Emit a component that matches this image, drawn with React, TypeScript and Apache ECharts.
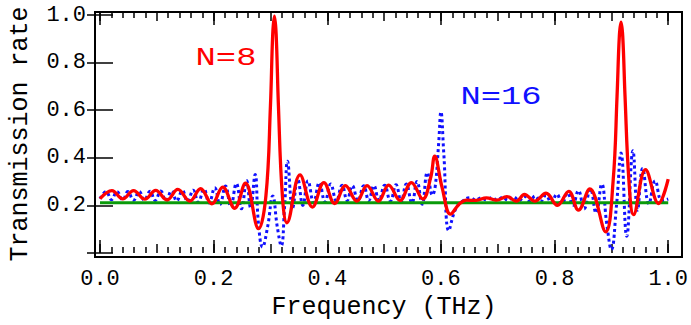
import React, { useEffect, useRef } from "react";
import * as echarts from "echarts";

const xAxisTitle = "Frequency (THz)";
const yAxisTitle = "Transmission rate";
const xTickLabels = ["0.0", "0.2", "0.4", "0.6", "0.8", "1.0"];
const yTickLabels = ["", "0.2", "0.4", "0.6", "0.8", "1.0"];
const labelN8 = "N=8";
const labelN16 = "N=16";

// N = 8 (solid red)
const n8Points: [number, number][] = [
  [0.000, 0.228], [0.021, 0.262], [0.040, 0.227], [0.059, 0.262], [0.079, 0.226],
  [0.098, 0.263], [0.118, 0.223], [0.137, 0.267], [0.158, 0.218], [0.177, 0.270],
  [0.197, 0.207], [0.216, 0.277], [0.237, 0.188], [0.256, 0.293], [0.279, 0.102],
  [0.292, 0.240], [0.300, 0.620], [0.304, 0.920], [0.307, 0.995], [0.310, 0.920],
  [0.314, 0.620], [0.321, 0.240], [0.329, 0.127], [0.352, 0.328], [0.374, 0.193],
  [0.394, 0.296], [0.413, 0.208], [0.432, 0.283], [0.452, 0.218], [0.470, 0.283],
  [0.490, 0.218], [0.508, 0.285], [0.528, 0.221], [0.548, 0.296], [0.568, 0.227],
  [0.582, 0.317], [0.589, 0.407], [0.602, 0.276], [0.617, 0.163], [0.632, 0.205],
  [0.645, 0.222], [0.662, 0.221], [0.680, 0.232], [0.698, 0.222], [0.716, 0.237],
  [0.733, 0.218], [0.747, 0.246], [0.765, 0.218], [0.785, 0.251], [0.805, 0.200],
  [0.825, 0.259], [0.842, 0.180], [0.862, 0.269], [0.890, 0.089], [0.903, 0.300],
  [0.910, 0.660], [0.914, 0.910], [0.917, 0.970], [0.920, 0.910], [0.924, 0.660],
  [0.931, 0.300], [0.939, 0.161], [0.960, 0.350], [0.983, 0.208], [1.000, 0.310],
];

// N = 16 (dotted blue)
const n16Points: [number, number][] = [
  [0.000, 0.228], [0.011, 0.258], [0.020, 0.224], [0.030, 0.258], [0.040, 0.223],
  [0.049, 0.258], [0.059, 0.222], [0.069, 0.259], [0.078, 0.222], [0.088, 0.259],
  [0.097, 0.221], [0.107, 0.260], [0.116, 0.220], [0.126, 0.261], [0.135, 0.219],
  [0.145, 0.262], [0.154, 0.217], [0.164, 0.264], [0.173, 0.214], [0.183, 0.268],
  [0.192, 0.210], [0.202, 0.274], [0.211, 0.204], [0.221, 0.282], [0.230, 0.196],
  [0.240, 0.292], [0.249, 0.186], [0.258, 0.305], [0.265, 0.190], [0.273, 0.330],
  [0.279, 0.120], [0.286, 0.025], [0.295, 0.110], [0.304, 0.240], [0.312, 0.110],
  [0.319, 0.030], [0.325, 0.200], [0.330, 0.386], [0.339, 0.190], [0.348, 0.310],
  [0.357, 0.200], [0.366, 0.303], [0.376, 0.212], [0.386, 0.296], [0.396, 0.215],
  [0.406, 0.290], [0.416, 0.218], [0.426, 0.285], [0.435, 0.220], [0.444, 0.283],
  [0.454, 0.220], [0.464, 0.283], [0.473, 0.220], [0.482, 0.283], [0.491, 0.220],
  [0.501, 0.285], [0.511, 0.218], [0.521, 0.287], [0.530, 0.215], [0.539, 0.290],
  [0.549, 0.210], [0.558, 0.300], [0.567, 0.205], [0.576, 0.338], [0.585, 0.243],
  [0.590, 0.280], [0.596, 0.460], [0.600, 0.593], [0.605, 0.420], [0.614, 0.094],
  [0.625, 0.180], [0.636, 0.214], [0.652, 0.232], [0.661, 0.222], [0.671, 0.232],
  [0.680, 0.222], [0.690, 0.233], [0.699, 0.222], [0.709, 0.234], [0.718, 0.221],
  [0.728, 0.236], [0.737, 0.220], [0.747, 0.238], [0.756, 0.218], [0.766, 0.240],
  [0.775, 0.215], [0.785, 0.243], [0.794, 0.212], [0.804, 0.247], [0.813, 0.207],
  [0.823, 0.252], [0.832, 0.200], [0.842, 0.262], [0.852, 0.185], [0.863, 0.270],
  [0.873, 0.168], [0.883, 0.290], [0.892, 0.120], [0.900, 0.014], [0.909, 0.200],
  [0.917, 0.420], [0.927, 0.070], [0.938, 0.430], [0.946, 0.180], [0.955, 0.355],
  [0.966, 0.207], [0.977, 0.303], [0.989, 0.220], [1.000, 0.227],
];

// Flat reference (green)
const baselinePoints: [number, number][] = [
  [0.0, 0.211],
  [1.0, 0.211],
];

const FONT = '"Liberation Mono", "DejaVu Sans Mono", monospace';
const INK = "#000";

export default function App() {
  const ref = useRef<HTMLDivElement>(null);

  useEffect(() => {
    if (!ref.current) return;
    const chart = echarts.init(ref.current, null, { renderer: "svg" });

    const tickLine = { color: INK, width: 1.5 };
    const xBase = {
      type: "value" as const,
      min: 0,
      max: 1,
      axisLine: { show: false },
      splitLine: { show: false },
    };
    const majorX = (pos: "top" | "bottom", offset: number, withLabels: boolean) => ({
      ...xBase,
      position: pos,
      offset,
      interval: 0.2,
      axisTick: { show: true, inside: true, length: 13, lineStyle: tickLine },
      axisLabel: withLabels
        ? {
            show: true,
            formatter: (v: number) => xTickLabels[Math.round(v / 0.2)] ?? "",
            fontFamily: FONT,
            fontSize: 22,
            color: INK,
            margin: 15,
          }
        : { show: false },
    });
    const minorX = (pos: "top" | "bottom", offset: number) => ({
      ...xBase,
      position: pos,
      offset,
      interval: 0.1,
      axisTick: { show: true, inside: true, length: 9, lineStyle: tickLine },
      minorTick: { show: true, splitNumber: 5, length: 6, lineStyle: tickLine },
      axisLabel: { show: false },
    });
    const yBase = (pos: "left" | "right", offset: number, withLabels: boolean) => ({
      type: "value" as const,
      min: 0,
      max: 1,
      interval: 0.2,
      position: pos,
      offset,
      axisLine: { show: false },
      splitLine: { show: false },
      axisTick: { show: true, inside: true, length: 13, lineStyle: tickLine },
      axisLabel: withLabels
        ? {
            show: true,
            formatter: (v: number) => yTickLabels[Math.round(v / 0.2)] ?? "",
            fontFamily: FONT,
            fontSize: 22,
            color: INK,
            margin: 10,
          }
        : { show: false },
    });

    const xMain: any = majorX("bottom", 0, true);
    xMain.name = xAxisTitle;
    xMain.nameLocation = "middle";
    xMain.nameGap = 42;
    xMain.nameTextStyle = { fontFamily: FONT, fontSize: 25, color: INK };

    const yMain: any = yBase("left", 4, true);
    yMain.name = yAxisTitle;
    yMain.nameLocation = "middle";
    yMain.nameGap = 63;
    yMain.nameTextStyle = { fontFamily: FONT, fontSize: 25, color: INK };

    chart.setOption({
      animation: false,
      backgroundColor: "#fff",
      grid: { left: 99, right: 14.5, top: 15, bottom: 68.7, containLabel: false },
      xAxis: [xMain, minorX("bottom", 0), majorX("top", 3, false), minorX("top", 3)],
      yAxis: [yMain, yBase("right", 6, false)],
      series: [
        {
          name: labelN16,
          type: "line",
          xAxisIndex: 0,
          yAxisIndex: 0,
          data: n16Points,
          showSymbol: false,
          smooth: 0.45,
          lineStyle: { color: "#1010ff", width: 3, type: [3, 3], cap: "butt" },
          z: 2,
        },
        {
          name: "reference",
          type: "line",
          xAxisIndex: 0,
          yAxisIndex: 0,
          data: baselinePoints,
          showSymbol: false,
          lineStyle: { color: "#0a9a0a", width: 3 },
          z: 3,
        },
        {
          name: labelN8,
          type: "line",
          xAxisIndex: 0,
          yAxisIndex: 0,
          data: n8Points,
          showSymbol: false,
          smooth: 0.4,
          lineStyle: { color: "#ff0000", width: 3.3 },
          z: 4,
        },
      ],
      graphic: [
        {
          type: "rect",
          shape: { x: 95, y: 12, width: 587, height: 245 },
          style: { fill: "none", stroke: INK, lineWidth: 2 },
          z: 100,
          silent: true,
        },
        {
          type: "text",
          x: 226,
          y: 58.5,
          scaleX: 1.3,
          style: {
            text: labelN8,
            fontFamily: FONT,
            fontSize: 26,
            fill: "#ff0000",
            textAlign: "center",
            textVerticalAlign: "middle",
          },
          z: 100,
        },
        {
          type: "text",
          x: 501,
          y: 97.5,
          scaleX: 1.3,
          style: {
            text: labelN16,
            fontFamily: FONT,
            fontSize: 26,
            fill: "#1010ff",
            textAlign: "center",
            textVerticalAlign: "middle",
          },
          z: 100,
        },
      ],
    });

    return () => chart.dispose();
  }, []);

  return (
    <div
      ref={ref}
      style={{ position: "absolute", left: 0, top: 0, width: 691, height: 325 }}
    />
  );
}
